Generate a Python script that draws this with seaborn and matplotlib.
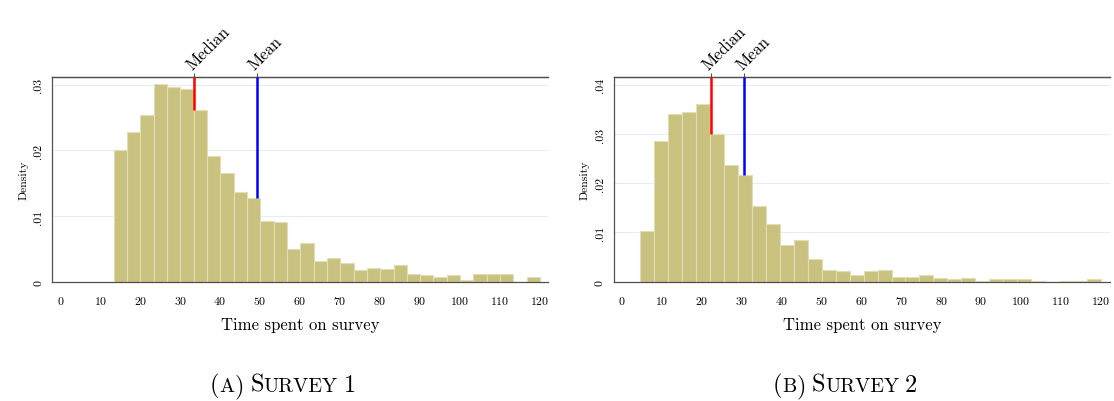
import numpy as np
import matplotlib
matplotlib.use("Agg")
import matplotlib.pyplot as plt
import matplotlib.transforms as mtransforms
import seaborn as sns

# Survey 1: density per bin, 32 bins between 13.4 and 120
s1_bin_start = 13.4
s1_bin_end = 120.0
s1_density = [0.0201, 0.0228, 0.0254, 0.0301, 0.0296, 0.0293, 0.0262, 0.0191,
              0.0166, 0.0137, 0.0128, 0.0093, 0.0091, 0.0050, 0.0059, 0.0032,
              0.0036, 0.0028, 0.0018, 0.0021, 0.0019, 0.0026, 0.0012, 0.0010,
              0.0007, 0.0010, 0.0003, 0.0012, 0.0012, 0.0012, 0.0000, 0.0007]
s1_median = 33.5
s1_mean = 49.2

# Survey 2: density per bin, 33 bins between 4.6 and 120
s2_bin_start = 4.6
s2_bin_end = 120.0
s2_density = [0.0103, 0.0285, 0.0341, 0.0345, 0.0360, 0.0299, 0.0236, 0.0217,
              0.0153, 0.0118, 0.0074, 0.0085, 0.0047, 0.0024, 0.0022, 0.0014,
              0.0021, 0.0023, 0.0010, 0.0010, 0.0013, 0.0007, 0.0005, 0.0007,
              0.0002, 0.0005, 0.0005, 0.0005, 0.0001, 0.0000, 0.0002, 0.0002,
              0.0005]
s2_median = 22.3
s2_mean = 30.7

x_ticks = list(range(0, 121, 10))
s1_yticks = [0, 0.01, 0.02, 0.03]
s2_yticks = [0, 0.01, 0.02, 0.03, 0.04]
ytick_labels1 = ["0", ".01", ".02", ".03"]
ytick_labels2 = ["0", ".01", ".02", ".03", ".04"]

sns.set_style("white")
plt.rcParams['font.family'] = ['cmr10', 'DejaVu Serif']
plt.rcParams['axes.formatter.use_mathtext'] = True
plt.rcParams['mathtext.fontset'] = 'cm'
plt.rcParams['text.color'] = 'black'
plt.rcParams['axes.labelcolor'] = 'black'
plt.rcParams['xtick.color'] = 'black'
plt.rcParams['ytick.color'] = 'black'

BAR = '#C9C27F'
EDGE = '#E2DDB6'
AXC = '#505050'


def draw_panel(ax, start, end, dens, median, mean, yticks, ylabels, ytop, xlim):
    n = len(dens)
    width = (end - start) / n
    centers = [start + width * (i + 0.5) for i in range(n)]
    sns.histplot(x=centers, weights=dens, bins=n, binrange=(start, end),
                 stat='count', color=BAR, edgecolor=EDGE, linewidth=0.8,
                 alpha=1, ax=ax)
    ax.set_xlim(*xlim)
    ax.set_ylim(0, ytop)
    ax.set_xticks(x_ticks)
    ax.set_yticks(yticks)
    ax.set_yticklabels(ylabels, rotation=90, va='center')
    ax.tick_params(axis='both', labelsize=8.5, length=3.5, width=0.8,
                   color=AXC, labelcolor='black', direction='out', pad=3)
    ax.tick_params(axis='x', pad=5)
    ax.yaxis.grid(True, color='#E4EEF0', lw=0.8)
    ax.set_axisbelow(True)
    for side in ['left', 'bottom', 'top']:
        ax.spines[side].set_color(AXC)
        ax.spines[side].set_linewidth(0.9)
    ax.spines['right'].set_visible(False)
    ax.set_xlabel('Time spent on survey', fontsize=12, labelpad=8, color='black')
    ax.set_ylabel('Density', fontsize=8.5, labelpad=4, color='black')

    # lines from the bar tops to the upper edge
    for val, col in [(median, 'red'), (mean, 'blue')]:
        idx = int((val - start) / width)
        ax.vlines(val, dens[idx], ytop, color=col, lw=1.8, zorder=3)

    sec = ax.secondary_xaxis('top')
    sec.set_xticks([median, mean], labels=['Median', 'Mean'])
    sec.tick_params(length=3, width=0.8, color=AXC, labelcolor='black',
                    labelsize=12, pad=1)
    sec.spines['top'].set_color(AXC)
    sec.spines['top'].set_linewidth(0.9)
    plt.setp(sec.get_xticklabels(), rotation=45, ha='left',
             rotation_mode='anchor')


def small_caps(fig, x_center, y_base, pieces):
    renderer = fig.canvas.get_renderer()
    ident = mtransforms.IdentityTransform()
    texts = []
    x = 0.0
    for txt, size, gap in pieces:
        x += gap
        t = fig.text(x, y_base, txt, fontsize=size, va='baseline', ha='left',
                     transform=ident, color='black')
        w = t.get_window_extent(renderer).width
        texts.append((t, x))
        x += w
    shift = x_center - x / 2
    for t, xx in texts:
        t.set_x(xx + shift)


fig = plt.figure(figsize=(11.14, 4.02), dpi=100)
H = 402.0
W = 1114.0
ax1 = fig.add_axes([52.3 / W, 1 - 282.7 / H, 495.7 / W, 204.4 / H])
ax2 = fig.add_axes([613.6 / W, 1 - 282.7 / H, 496.4 / W, 204.4 / H])

draw_panel(ax1, s1_bin_start, s1_bin_end, s1_density, s1_median, s1_mean,
           s1_yticks, ytick_labels1, 0.0311, (-2, 122))
draw_panel(ax2, s2_bin_start, s2_bin_end, s2_density, s2_median, s2_mean,
           s2_yticks, ytick_labels2, 0.0415, (-2.1, 122.3))

big, small = 17.5, 14.5
small_caps(fig, 283, H - 392, [("(", big, 0), ("A", small, 0), (")", big, 0),
                               ("S", big, 6), ("URVEY", small, 0), ("1", big, 6)])
small_caps(fig, 845, H - 392, [("(", big, 0), ("B", small, 0), (")", big, 0),
                               ("S", big, 6), ("URVEY", small, 0), ("2", big, 6)])

fig.savefig('out.png', dpi=100)
